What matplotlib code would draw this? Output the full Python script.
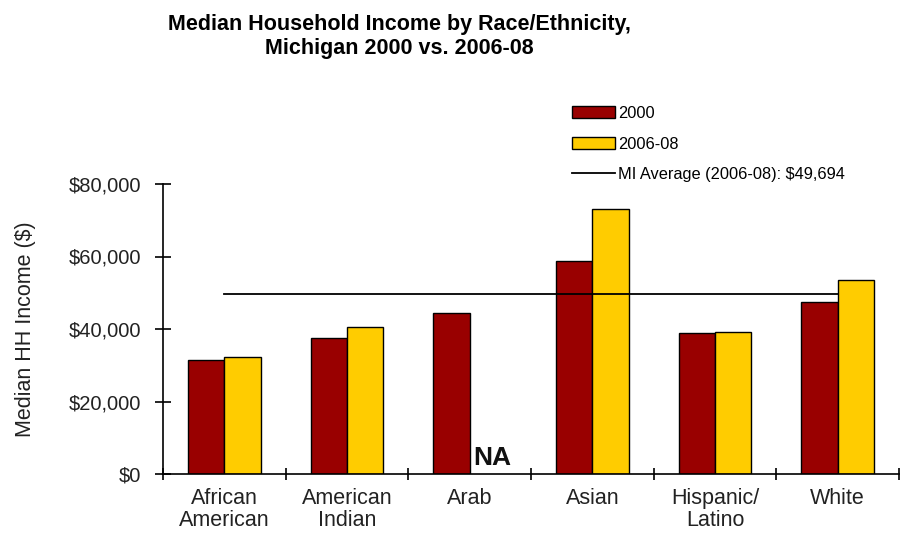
import matplotlib.pyplot as plt
import numpy as np

plt.rcParams['font.family'] = ['Liberation Sans', 'DejaVu Sans']

categories = ['African\nAmerican', 'American\nIndian', 'Arab', 'Asian', 'Hispanic/\nLatino', 'White']
income_2000 = [31400, 37400, 44300, 58800, 38800, 47400]
income_2006 = [32400, 40600, np.nan, 73000, 39300, 53500]
mi_average = 49694
series_labels = ['2000', '2006-08', 'MI Average (2006-08): $49,694']

red, yellow = '#990000', '#ffcc00'
x = np.arange(len(categories))
w = 0.295

fig = plt.figure(figsize=(9.04, 5.33), dpi=100)
ax = fig.add_axes([163 / 904, 1 - 474 / 533, (899 - 163) / 904, (474 - 184) / 533])

b1 = ax.bar(x - w / 2, income_2000, w, color=red, edgecolor='k', lw=1.0, label=series_labels[0])
b2 = ax.bar(x + w / 2, income_2006, w, color=yellow, edgecolor='k', lw=1.0, label=series_labels[1])
ln, = ax.plot([x[0], x[-1]], [mi_average, mi_average], color='k', lw=1.3, label=series_labels[2])

# Arab has no 2006-08 value
ax.text(x[2] + w / 2 + 0.04, 2500, 'NA', ha='center', va='baseline', fontsize=19, fontweight='bold',
        color='#111111')

ax.set_xlim(-0.5, len(categories) - 0.5)
ax.set_ylim(0, 80000)
ax.set_yticks(np.arange(0, 80001, 20000))
ax.set_yticklabels([f'${v:,.0f}' for v in np.arange(0, 80001, 20000)], fontsize=14.5, color='#222222')
ax.tick_params(axis='y', direction='inout', length=11.5, width=1.2, pad=10)

ax.set_xticks(x)
ax.set_xticklabels(categories, fontsize=15.5, color='#222222', linespacing=1.05)
ax.set_xticks(np.arange(-0.5, len(categories)), minor=True)
ax.tick_params(axis='x', which='major', length=0, pad=10)
ax.tick_params(axis='x', which='minor', direction='inout', length=9, width=1.2)

for s in ['top', 'right']:
    ax.spines[s].set_visible(False)
for s in ['left', 'bottom']:
    ax.spines[s].set_linewidth(1.2)

ax.set_ylabel('Median HH Income ($)', fontsize=15.5, color='#222222')
ax.yaxis.set_label_coords(-0.172, 0.5)

fig.legend(handles=[b1, b2, ln], loc='upper left', bbox_to_anchor=(572 / 904, 1 - 106 / 533),
           frameon=False, fontsize=11.8, handlelength=2.65, handleheight=0.75,
           handletextpad=0.15, labelspacing=0.95, borderpad=0, borderaxespad=0)

fig.text(0.442, 1 - 14 / 533, 'Median Household Income by Race/Ethnicity,\nMichigan 2000 vs. 2006-08',
         ha='center', va='top', fontsize=15.5, fontweight='bold', linespacing=1.2)

fig.savefig('out.png', dpi=100)
